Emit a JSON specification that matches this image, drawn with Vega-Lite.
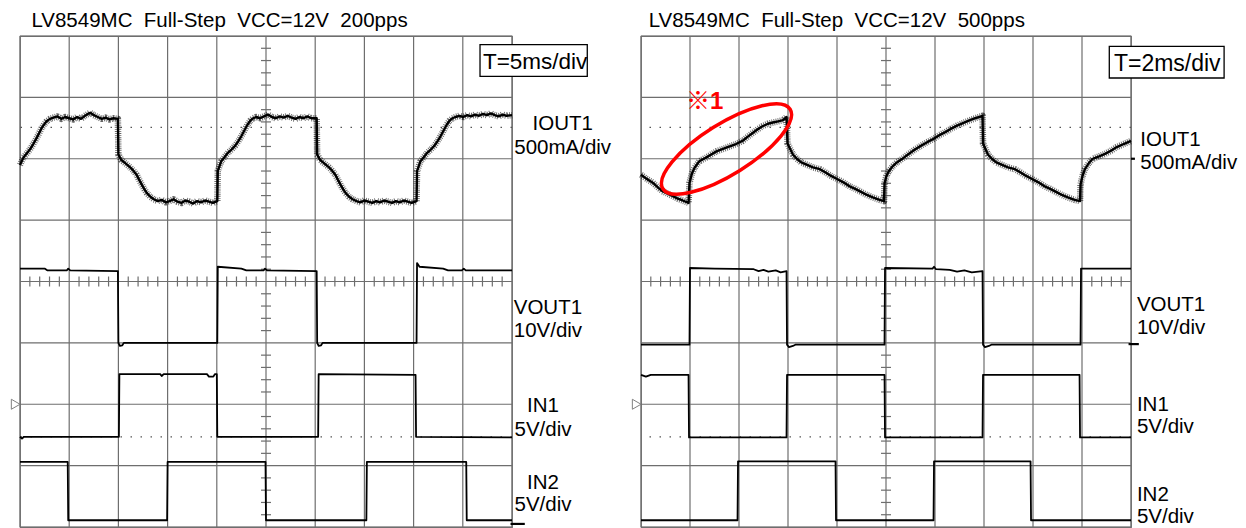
{
  "$schema": "https://vega.github.io/schema/vega-lite/v6.json",
  "padding": {"left": 8, "top": 10, "right": 0, "bottom": 0},
  "background": "white",
  "bounds": "flush",
  "spacing": 129,
  "config": {
    "font": "Liberation Sans",
    "view": {"stroke": "#6e6e6e", "strokeWidth": 1.2},
    "title": {"fontSize": 20.5, "fontWeight": "normal", "font": "Liberation Sans", "anchor": "start", "frame": "group", "offset": 3.5, "baseline": "alphabetic", "color": "#000000"},
    "text": {"font": "Liberation Sans", "color": "#000000"},
    "line": {"strokeJoin": "round"}
  },
  "datasets": {
    "gridX": [{"p":0},{"p":1},{"p":2},{"p":3},{"p":4},{"p":5},{"p":6},{"p":7},{"p":8},{"p":9},{"p":10}],
    "gridY": [{"p":0},{"p":1},{"p":2},{"p":3},{"p":4},{"p":5},{"p":6},{"p":7},{"p":8}],
    "dots": [{"v": 6.51}, {"v": 1.47}],
    "mL": [{"t": 9.97, "t2": 10.26, "v": 0.05}],
    "mR": [{"t": 9.95, "t2": 10.16, "v": 2.98}, {"t": 10.0, "t2": 10.08, "v": 6.0}],
    "ticksX": [{"p":0.2},{"p":0.4},{"p":0.6},{"p":0.8},{"p":1.2},{"p":1.4},{"p":1.6},{"p":1.8},{"p":2.2},{"p":2.4},{"p":2.6},{"p":2.8},{"p":3.2},{"p":3.4},{"p":3.6},{"p":3.8},{"p":4.2},{"p":4.4},{"p":4.6},{"p":4.8},{"p":5.2},{"p":5.4},{"p":5.6},{"p":5.8},{"p":6.2},{"p":6.4},{"p":6.6},{"p":6.8},{"p":7.2},{"p":7.4},{"p":7.6},{"p":7.8},{"p":8.2},{"p":8.4},{"p":8.6},{"p":8.8},{"p":9.2},{"p":9.4},{"p":9.6},{"p":9.8}],
    "ticksY": [{"p":0.2},{"p":0.4},{"p":0.6},{"p":0.8},{"p":1.2},{"p":1.4},{"p":1.6},{"p":1.8},{"p":2.2},{"p":2.4},{"p":2.6},{"p":2.8},{"p":3.2},{"p":3.4},{"p":3.6},{"p":3.8},{"p":4.2},{"p":4.4},{"p":4.6},{"p":4.8},{"p":5.2},{"p":5.4},{"p":5.6},{"p":5.8},{"p":6.2},{"p":6.4},{"p":6.6},{"p":6.8},{"p":7.2},{"p":7.4},{"p":7.6},{"p":7.8}],
    "L": [
      {"ch":"IOUT1","t":0,"v":5.90},{"ch":"IOUT1","t":0.07,"v":6.02},{"ch":"IOUT1","t":0.14,"v":6.09},{"ch":"IOUT1","t":0.2,"v":6.15},{"ch":"IOUT1","t":0.27,"v":6.24},{"ch":"IOUT1","t":0.34,"v":6.34},{"ch":"IOUT1","t":0.39,"v":6.42},{"ch":"IOUT1","t":0.44,"v":6.50},{"ch":"IOUT1","t":0.49,"v":6.56},{"ch":"IOUT1","t":0.54,"v":6.61},{"ch":"IOUT1","t":0.61,"v":6.65},{"ch":"IOUT1","t":0.68,"v":6.67},{"ch":"IOUT1","t":0.76,"v":6.69},{"ch":"IOUT1","t":0.84,"v":6.65},{"ch":"IOUT1","t":0.92,"v":6.68},{"ch":"IOUT1","t":1.0,"v":6.66},{"ch":"IOUT1","t":1.08,"v":6.64},{"ch":"IOUT1","t":1.16,"v":6.68},{"ch":"IOUT1","t":1.24,"v":6.65},{"ch":"IOUT1","t":1.32,"v":6.70},{"ch":"IOUT1","t":1.38,"v":6.73},{"ch":"IOUT1","t":1.43,"v":6.75},{"ch":"IOUT1","t":1.5,"v":6.71},{"ch":"IOUT1","t":1.58,"v":6.68},{"ch":"IOUT1","t":1.66,"v":6.65},{"ch":"IOUT1","t":1.74,"v":6.67},{"ch":"IOUT1","t":1.82,"v":6.64},{"ch":"IOUT1","t":1.9,"v":6.66},{"ch":"IOUT1","t":1.99,"v":6.65},
      {"ch":"IOUT1","t":2.0,"v":6.07},{"ch":"IOUT1","t":2.06,"v":5.98},{"ch":"IOUT1","t":2.12,"v":5.94},{"ch":"IOUT1","t":2.18,"v":5.90},{"ch":"IOUT1","t":2.24,"v":5.86},{"ch":"IOUT1","t":2.3,"v":5.81},{"ch":"IOUT1","t":2.37,"v":5.74},{"ch":"IOUT1","t":2.42,"v":5.66},{"ch":"IOUT1","t":2.48,"v":5.57},{"ch":"IOUT1","t":2.53,"v":5.50},{"ch":"IOUT1","t":2.58,"v":5.44},{"ch":"IOUT1","t":2.65,"v":5.38},{"ch":"IOUT1","t":2.72,"v":5.34},{"ch":"IOUT1","t":2.8,"v":5.31},{"ch":"IOUT1","t":2.88,"v":5.33},{"ch":"IOUT1","t":2.96,"v":5.29},{"ch":"IOUT1","t":3.04,"v":5.31},{"ch":"IOUT1","t":3.12,"v":5.34},{"ch":"IOUT1","t":3.2,"v":5.30},{"ch":"IOUT1","t":3.28,"v":5.28},{"ch":"IOUT1","t":3.36,"v":5.32},{"ch":"IOUT1","t":3.44,"v":5.30},{"ch":"IOUT1","t":3.52,"v":5.27},{"ch":"IOUT1","t":3.6,"v":5.31},{"ch":"IOUT1","t":3.68,"v":5.29},{"ch":"IOUT1","t":3.76,"v":5.32},{"ch":"IOUT1","t":3.84,"v":5.30},{"ch":"IOUT1","t":3.92,"v":5.28},{"ch":"IOUT1","t":4.01,"v":5.31},
      {"ch":"IOUT1","t":4.02,"v":5.80},{"ch":"IOUT1","t":4.09,"v":5.96},{"ch":"IOUT1","t":4.16,"v":6.03},{"ch":"IOUT1","t":4.23,"v":6.10},{"ch":"IOUT1","t":4.3,"v":6.15},{"ch":"IOUT1","t":4.37,"v":6.21},{"ch":"IOUT1","t":4.44,"v":6.29},{"ch":"IOUT1","t":4.5,"v":6.37},{"ch":"IOUT1","t":4.56,"v":6.46},{"ch":"IOUT1","t":4.62,"v":6.55},{"ch":"IOUT1","t":4.68,"v":6.62},{"ch":"IOUT1","t":4.74,"v":6.66},{"ch":"IOUT1","t":4.8,"v":6.68},{"ch":"IOUT1","t":4.88,"v":6.66},{"ch":"IOUT1","t":4.96,"v":6.69},{"ch":"IOUT1","t":5.04,"v":6.72},{"ch":"IOUT1","t":5.12,"v":6.68},{"ch":"IOUT1","t":5.2,"v":6.66},{"ch":"IOUT1","t":5.28,"v":6.69},{"ch":"IOUT1","t":5.36,"v":6.67},{"ch":"IOUT1","t":5.44,"v":6.70},{"ch":"IOUT1","t":5.52,"v":6.67},{"ch":"IOUT1","t":5.6,"v":6.65},{"ch":"IOUT1","t":5.68,"v":6.68},{"ch":"IOUT1","t":5.76,"v":6.66},{"ch":"IOUT1","t":5.84,"v":6.69},{"ch":"IOUT1","t":5.92,"v":6.66},{"ch":"IOUT1","t":6.03,"v":6.66},
      {"ch":"IOUT1","t":6.04,"v":6.07},{"ch":"IOUT1","t":6.1,"v":5.98},{"ch":"IOUT1","t":6.16,"v":5.94},{"ch":"IOUT1","t":6.22,"v":5.90},{"ch":"IOUT1","t":6.28,"v":5.86},{"ch":"IOUT1","t":6.34,"v":5.81},{"ch":"IOUT1","t":6.41,"v":5.74},{"ch":"IOUT1","t":6.46,"v":5.66},{"ch":"IOUT1","t":6.52,"v":5.57},{"ch":"IOUT1","t":6.57,"v":5.50},{"ch":"IOUT1","t":6.62,"v":5.44},{"ch":"IOUT1","t":6.69,"v":5.38},{"ch":"IOUT1","t":6.76,"v":5.34},{"ch":"IOUT1","t":6.84,"v":5.31},{"ch":"IOUT1","t":6.92,"v":5.29},{"ch":"IOUT1","t":7.0,"v":5.32},{"ch":"IOUT1","t":7.08,"v":5.30},{"ch":"IOUT1","t":7.16,"v":5.28},{"ch":"IOUT1","t":7.24,"v":5.31},{"ch":"IOUT1","t":7.32,"v":5.29},{"ch":"IOUT1","t":7.4,"v":5.32},{"ch":"IOUT1","t":7.48,"v":5.30},{"ch":"IOUT1","t":7.56,"v":5.28},{"ch":"IOUT1","t":7.64,"v":5.31},{"ch":"IOUT1","t":7.72,"v":5.29},{"ch":"IOUT1","t":7.8,"v":5.32},{"ch":"IOUT1","t":7.88,"v":5.30},{"ch":"IOUT1","t":7.96,"v":5.28},{"ch":"IOUT1","t":8.06,"v":5.31},
      {"ch":"IOUT1","t":8.07,"v":5.80},{"ch":"IOUT1","t":8.14,"v":5.96},{"ch":"IOUT1","t":8.21,"v":6.03},{"ch":"IOUT1","t":8.28,"v":6.10},{"ch":"IOUT1","t":8.35,"v":6.15},{"ch":"IOUT1","t":8.42,"v":6.21},{"ch":"IOUT1","t":8.49,"v":6.29},{"ch":"IOUT1","t":8.55,"v":6.37},{"ch":"IOUT1","t":8.61,"v":6.46},{"ch":"IOUT1","t":8.67,"v":6.55},{"ch":"IOUT1","t":8.73,"v":6.62},{"ch":"IOUT1","t":8.79,"v":6.66},{"ch":"IOUT1","t":8.85,"v":6.68},{"ch":"IOUT1","t":8.93,"v":6.70},{"ch":"IOUT1","t":9.01,"v":6.68},{"ch":"IOUT1","t":9.09,"v":6.71},{"ch":"IOUT1","t":9.17,"v":6.69},{"ch":"IOUT1","t":9.25,"v":6.72},{"ch":"IOUT1","t":9.33,"v":6.70},{"ch":"IOUT1","t":9.41,"v":6.73},{"ch":"IOUT1","t":9.49,"v":6.71},{"ch":"IOUT1","t":9.57,"v":6.74},{"ch":"IOUT1","t":9.65,"v":6.71},{"ch":"IOUT1","t":9.73,"v":6.69},{"ch":"IOUT1","t":9.81,"v":6.72},{"ch":"IOUT1","t":9.89,"v":6.70},{"ch":"IOUT1","t":10,"v":6.71},
      {"ch":"VOUT1","t":0,"v":4.21},{"ch":"VOUT1","t":0.5,"v":4.21},{"ch":"VOUT1","t":0.56,"v":4.18},{"ch":"VOUT1","t":0.95,"v":4.18},{"ch":"VOUT1","t":0.98,"v":4.21},{"ch":"VOUT1","t":1.02,"v":4.18},{"ch":"VOUT1","t":1.99,"v":4.17},{"ch":"VOUT1","t":2.0,"v":3.0},{"ch":"VOUT1","t":2.03,"v":2.95},{"ch":"VOUT1","t":2.08,"v":2.96},{"ch":"VOUT1","t":2.11,"v":3.0},{"ch":"VOUT1","t":4.01,"v":3.0},{"ch":"VOUT1","t":4.02,"v":4.24},{"ch":"VOUT1","t":4.5,"v":4.21},{"ch":"VOUT1","t":4.6,"v":4.18},{"ch":"VOUT1","t":4.95,"v":4.18},{"ch":"VOUT1","t":4.98,"v":4.21},{"ch":"VOUT1","t":5.02,"v":4.18},{"ch":"VOUT1","t":6.03,"v":4.17},{"ch":"VOUT1","t":6.04,"v":3.0},{"ch":"VOUT1","t":6.07,"v":2.95},{"ch":"VOUT1","t":6.12,"v":2.96},{"ch":"VOUT1","t":6.15,"v":3.0},{"ch":"VOUT1","t":8.06,"v":3.0},{"ch":"VOUT1","t":8.07,"v":4.30},{"ch":"VOUT1","t":8.12,"v":4.24},{"ch":"VOUT1","t":8.6,"v":4.21},{"ch":"VOUT1","t":8.7,"v":4.18},{"ch":"VOUT1","t":8.98,"v":4.18},{"ch":"VOUT1","t":9.02,"v":4.21},{"ch":"VOUT1","t":9.06,"v":4.18},{"ch":"VOUT1","t":10,"v":4.18},
      {"ch":"IN1","t":0,"v":1.47},{"ch":"IN1","t":0.04,"v":1.44},{"ch":"IN1","t":0.08,"v":1.47},{"ch":"IN1","t":2.01,"v":1.47},{"ch":"IN1","t":2.02,"v":2.49},{"ch":"IN1","t":2.85,"v":2.49},{"ch":"IN1","t":2.88,"v":2.46},{"ch":"IN1","t":2.92,"v":2.49},{"ch":"IN1","t":3.8,"v":2.49},{"ch":"IN1","t":3.84,"v":2.45},{"ch":"IN1","t":3.93,"v":2.45},{"ch":"IN1","t":3.96,"v":2.49},{"ch":"IN1","t":4.0,"v":2.49},{"ch":"IN1","t":4.01,"v":1.47},{"ch":"IN1","t":6.06,"v":1.47},{"ch":"IN1","t":6.07,"v":2.49},{"ch":"IN1","t":8.04,"v":2.48},{"ch":"IN1","t":8.05,"v":1.47},{"ch":"IN1","t":10,"v":1.46},
      {"ch":"IN2","t":0,"v":1.06},{"ch":"IN2","t":0.97,"v":1.06},{"ch":"IN2","t":0.98,"v":0.11},{"ch":"IN2","t":2.99,"v":0.11},{"ch":"IN2","t":3.0,"v":1.06},{"ch":"IN2","t":4.99,"v":1.06},{"ch":"IN2","t":5.0,"v":0.11},{"ch":"IN2","t":7.04,"v":0.11},{"ch":"IN2","t":7.05,"v":1.06},{"ch":"IN2","t":9.07,"v":1.06},{"ch":"IN2","t":9.08,"v":0.11},{"ch":"IN2","t":10,"v":0.11}
    ],
    "R": [
      {"ch":"IOUT1","t":0,"v":5.74},{"ch":"IOUT1","t":0.1,"v":5.68},{"ch":"IOUT1","t":0.24,"v":5.61},{"ch":"IOUT1","t":0.35,"v":5.53},{"ch":"IOUT1","t":0.44,"v":5.47},{"ch":"IOUT1","t":0.55,"v":5.43},{"ch":"IOUT1","t":0.65,"v":5.39},{"ch":"IOUT1","t":0.75,"v":5.35},{"ch":"IOUT1","t":0.85,"v":5.32},{"ch":"IOUT1","t":0.97,"v":5.28},
      {"ch":"IOUT1","t":0.99,"v":5.61},{"ch":"IOUT1","t":1.04,"v":5.76},{"ch":"IOUT1","t":1.09,"v":5.85},{"ch":"IOUT1","t":1.19,"v":5.96},{"ch":"IOUT1","t":1.33,"v":6.02},{"ch":"IOUT1","t":1.54,"v":6.12},{"ch":"IOUT1","t":1.74,"v":6.18},{"ch":"IOUT1","t":1.94,"v":6.24},{"ch":"IOUT1","t":2.07,"v":6.29},{"ch":"IOUT1","t":2.18,"v":6.36},{"ch":"IOUT1","t":2.28,"v":6.42},{"ch":"IOUT1","t":2.38,"v":6.48},{"ch":"IOUT1","t":2.48,"v":6.53},{"ch":"IOUT1","t":2.59,"v":6.57},{"ch":"IOUT1","t":2.69,"v":6.59},{"ch":"IOUT1","t":2.8,"v":6.61},{"ch":"IOUT1","t":2.9,"v":6.63},{"ch":"IOUT1","t":2.97,"v":6.68},
      {"ch":"IOUT1","t":2.99,"v":6.25},{"ch":"IOUT1","t":3.1,"v":6.07},{"ch":"IOUT1","t":3.18,"v":6.0},{"ch":"IOUT1","t":3.27,"v":5.94},{"ch":"IOUT1","t":3.39,"v":5.90},{"ch":"IOUT1","t":3.51,"v":5.86},{"ch":"IOUT1","t":3.65,"v":5.83},{"ch":"IOUT1","t":3.76,"v":5.78},{"ch":"IOUT1","t":3.88,"v":5.72},{"ch":"IOUT1","t":4.0,"v":5.67},{"ch":"IOUT1","t":4.12,"v":5.62},{"ch":"IOUT1","t":4.26,"v":5.55},{"ch":"IOUT1","t":4.37,"v":5.51},{"ch":"IOUT1","t":4.49,"v":5.46},{"ch":"IOUT1","t":4.61,"v":5.41},{"ch":"IOUT1","t":4.73,"v":5.37},{"ch":"IOUT1","t":4.87,"v":5.33},{"ch":"IOUT1","t":4.96,"v":5.31},
      {"ch":"IOUT1","t":4.97,"v":5.60},{"ch":"IOUT1","t":5.01,"v":5.72},{"ch":"IOUT1","t":5.06,"v":5.80},{"ch":"IOUT1","t":5.14,"v":5.88},{"ch":"IOUT1","t":5.22,"v":5.94},{"ch":"IOUT1","t":5.35,"v":6.01},{"ch":"IOUT1","t":5.47,"v":6.08},{"ch":"IOUT1","t":5.59,"v":6.15},{"ch":"IOUT1","t":5.71,"v":6.21},{"ch":"IOUT1","t":5.84,"v":6.27},{"ch":"IOUT1","t":5.96,"v":6.32},{"ch":"IOUT1","t":6.08,"v":6.38},{"ch":"IOUT1","t":6.2,"v":6.43},{"ch":"IOUT1","t":6.33,"v":6.49},{"ch":"IOUT1","t":6.45,"v":6.54},{"ch":"IOUT1","t":6.57,"v":6.58},{"ch":"IOUT1","t":6.69,"v":6.62},{"ch":"IOUT1","t":6.82,"v":6.66},{"ch":"IOUT1","t":6.94,"v":6.69},{"ch":"IOUT1","t":6.97,"v":6.70},
      {"ch":"IOUT1","t":6.98,"v":6.25},{"ch":"IOUT1","t":7.08,"v":6.07},{"ch":"IOUT1","t":7.16,"v":6.0},{"ch":"IOUT1","t":7.25,"v":5.94},{"ch":"IOUT1","t":7.37,"v":5.90},{"ch":"IOUT1","t":7.49,"v":5.86},{"ch":"IOUT1","t":7.63,"v":5.83},{"ch":"IOUT1","t":7.74,"v":5.78},{"ch":"IOUT1","t":7.86,"v":5.72},{"ch":"IOUT1","t":7.98,"v":5.67},{"ch":"IOUT1","t":8.1,"v":5.62},{"ch":"IOUT1","t":8.24,"v":5.55},{"ch":"IOUT1","t":8.35,"v":5.51},{"ch":"IOUT1","t":8.47,"v":5.46},{"ch":"IOUT1","t":8.59,"v":5.41},{"ch":"IOUT1","t":8.71,"v":5.37},{"ch":"IOUT1","t":8.85,"v":5.33},{"ch":"IOUT1","t":8.96,"v":5.31},
      {"ch":"IOUT1","t":8.97,"v":5.58},{"ch":"IOUT1","t":9.01,"v":5.72},{"ch":"IOUT1","t":9.06,"v":5.83},{"ch":"IOUT1","t":9.14,"v":5.93},{"ch":"IOUT1","t":9.22,"v":6.0},{"ch":"IOUT1","t":9.35,"v":6.04},{"ch":"IOUT1","t":9.47,"v":6.08},{"ch":"IOUT1","t":9.59,"v":6.13},{"ch":"IOUT1","t":9.71,"v":6.19},{"ch":"IOUT1","t":9.85,"v":6.24},{"ch":"IOUT1","t":10,"v":6.29},
      {"ch":"VOUT1","t":0,"v":2.97},{"ch":"VOUT1","t":0.99,"v":2.97},{"ch":"VOUT1","t":1.0,"v":4.22},{"ch":"VOUT1","t":1.5,"v":4.21},{"ch":"VOUT1","t":2.3,"v":4.20},{"ch":"VOUT1","t":2.4,"v":4.17},{"ch":"VOUT1","t":2.5,"v":4.19},{"ch":"VOUT1","t":2.6,"v":4.16},{"ch":"VOUT1","t":2.75,"v":4.18},{"ch":"VOUT1","t":2.85,"v":4.15},{"ch":"VOUT1","t":2.97,"v":4.17},{"ch":"VOUT1","t":2.98,"v":2.97},{"ch":"VOUT1","t":3.02,"v":2.93},{"ch":"VOUT1","t":3.1,"v":2.95},{"ch":"VOUT1","t":3.15,"v":2.97},{"ch":"VOUT1","t":4.97,"v":2.97},{"ch":"VOUT1","t":4.98,"v":4.22},{"ch":"VOUT1","t":5.95,"v":4.21},{"ch":"VOUT1","t":5.98,"v":4.24},{"ch":"VOUT1","t":6.02,"v":4.20},{"ch":"VOUT1","t":6.3,"v":4.19},{"ch":"VOUT1","t":6.45,"v":4.16},{"ch":"VOUT1","t":6.6,"v":4.18},{"ch":"VOUT1","t":6.75,"v":4.15},{"ch":"VOUT1","t":6.97,"v":4.17},{"ch":"VOUT1","t":6.98,"v":2.97},{"ch":"VOUT1","t":7.02,"v":2.93},{"ch":"VOUT1","t":7.1,"v":2.95},{"ch":"VOUT1","t":7.15,"v":2.97},{"ch":"VOUT1","t":8.97,"v":2.97},{"ch":"VOUT1","t":8.98,"v":4.21},{"ch":"VOUT1","t":10,"v":4.21},
      {"ch":"IN1","t":0,"v":2.48},{"ch":"IN1","t":0.1,"v":2.45},{"ch":"IN1","t":0.2,"v":2.48},{"ch":"IN1","t":0.97,"v":2.48},{"ch":"IN1","t":0.98,"v":1.46},{"ch":"IN1","t":2.97,"v":1.46},{"ch":"IN1","t":2.98,"v":2.48},{"ch":"IN1","t":4.97,"v":2.48},{"ch":"IN1","t":4.98,"v":1.46},{"ch":"IN1","t":6.97,"v":1.46},{"ch":"IN1","t":6.98,"v":2.48},{"ch":"IN1","t":8.95,"v":2.48},{"ch":"IN1","t":8.96,"v":1.46},{"ch":"IN1","t":10,"v":1.46},
      {"ch":"IN2","t":0,"v":0.11},{"ch":"IN2","t":1.97,"v":0.11},{"ch":"IN2","t":1.98,"v":1.07},{"ch":"IN2","t":3.97,"v":1.07},{"ch":"IN2","t":3.98,"v":0.11},{"ch":"IN2","t":5.97,"v":0.11},{"ch":"IN2","t":5.98,"v":1.07},{"ch":"IN2","t":7.95,"v":1.07},{"ch":"IN2","t":7.96,"v":0.11},{"ch":"IN2","t":10,"v":0.11}
    ]
  },
  "hconcat": [
    {
      "width": 492,
      "height": 491,
      "title": {"text": "LV8549MC\u00a0\u00a0Full-Step\u00a0\u00a0VCC=12V\u00a0\u00a0200pps", "dx": 11.4},
      "layer": [
        {
          "data": {"name": "gridX"},
          "mark": {"type": "rule", "color": "#6e6e6e", "strokeWidth": 1.2},
          "encoding": {"x": {"field": "p", "type": "quantitative", "scale": {"domain": [0, 10], "nice": false, "zero": false}, "axis": null}}
        },
        {
          "data": {"name": "gridY"},
          "mark": {"type": "rule", "color": "#6e6e6e", "strokeWidth": 1.2},
          "encoding": {"y": {"field": "p", "type": "quantitative", "scale": {"domain": [0, 8], "nice": false, "zero": false}, "axis": null}}
        },
        {
          "data": {"name": "dots"},
          "mark": {"type": "rule", "color": "#555555", "strokeWidth": 1.3, "strokeDash": [1.5, 8.5]},
          "encoding": {"y": {"field": "v", "type": "quantitative", "axis": null}}
        },
        {
          "data": {"name": "ticksX"},
          "mark": {"type": "tick", "orient": "vertical", "size": 10, "thickness": 1.2, "color": "#6e6e6e", "opacity": 1},
          "encoding": {
            "x": {"field": "p", "type": "quantitative", "axis": null},
            "y": {"datum": 4, "type": "quantitative", "axis": null}
          }
        },
        {
          "data": {"name": "ticksY"},
          "mark": {"type": "tick", "orient": "horizontal", "size": 10, "thickness": 1.2, "color": "#6e6e6e", "opacity": 1},
          "encoding": {
            "x": {"datum": 5, "type": "quantitative", "axis": null},
            "y": {"field": "p", "type": "quantitative", "axis": null}
          }
        },
        {
          "data": {"values": [{}]},
          "mark": {"type": "point", "shape": "triangle-right", "size": 100, "filled": false, "stroke": "#808080", "strokeWidth": 1, "opacity": 1},
          "encoding": {
            "x": {"datum": -0.088, "type": "quantitative", "axis": null},
            "y": {"datum": 2.0, "type": "quantitative", "axis": null}
          }
        },
        {
          "data": {"name": "mL"},
          "mark": {"type": "rule", "color": "#000000", "strokeWidth": 2.2},
          "encoding": {
            "x": {"field": "t", "type": "quantitative", "axis": null},
            "x2": {"field": "t2"},
            "y": {"field": "v", "type": "quantitative", "axis": null}
          }
        },
        {
          "data": {"name": "L"},
          "transform": [{"filter": "datum.ch !== 'IOUT1'"}],
          "mark": {"type": "line", "color": "#000000", "strokeWidth": 1.8},
          "encoding": {
            "x": {"field": "t", "type": "quantitative", "axis": null},
            "y": {"field": "v", "type": "quantitative", "axis": null},
            "detail": {"field": "ch"}
          }
        },
        {
          "data": {"name": "L"},
          "transform": [{"filter": "datum.ch === 'IOUT1'"}],
          "mark": {"type": "line", "color": "#000000", "strokeWidth": 6.5, "opacity": 0.6, "strokeDash": [0.9, 1.2]},
          "encoding": {
            "x": {"field": "t", "type": "quantitative", "axis": null},
            "y": {"field": "v", "type": "quantitative", "axis": null}
          }
        },
        {
          "data": {"name": "L"},
          "transform": [{"filter": "datum.ch === 'IOUT1'"}],
          "mark": {"type": "line", "color": "#000000", "strokeWidth": 2.4},
          "encoding": {
            "x": {"field": "t", "type": "quantitative", "axis": null},
            "y": {"field": "v", "type": "quantitative", "axis": null}
          }
        },
        {
          "data": {"values": [{}]},
          "mark": {"type": "rect", "fill": "#ffffff", "stroke": "#000000", "strokeWidth": 1.3},
          "encoding": {
            "x": {"datum": 9.35, "type": "quantitative", "axis": null},
            "x2": {"datum": 11.53},
            "y": {"datum": 7.858, "type": "quantitative", "axis": null},
            "y2": {"datum": 7.343}
          }
        },
        {
          "data": {"values": [{}]},
          "mark": {"type": "text", "fontSize": 22.5, "align": "center", "baseline": "alphabetic"},
          "encoding": {
            "x": {"datum": 10.47, "type": "quantitative", "axis": null},
            "y": {"datum": 7.462, "type": "quantitative", "axis": null},
            "text": {"value": "T=5ms/div"}
          }
        },
        {
          "data": {"values": [{}]},
          "mark": {"type": "text", "fontSize": 20.5, "align": "center", "baseline": "alphabetic", "lineHeight": 24},
          "encoding": {
            "x": {"datum": 11.03, "type": "quantitative", "axis": null},
            "y": {"datum": 6.474, "type": "quantitative", "axis": null},
            "text": {"value": ["IOUT1", "500mA/div"]}
          }
        },
        {
          "data": {"values": [{}]},
          "mark": {"type": "text", "fontSize": 20.5, "align": "center", "baseline": "alphabetic", "lineHeight": 23.5},
          "encoding": {
            "x": {"datum": 10.73, "type": "quantitative", "axis": null},
            "y": {"datum": 3.472, "type": "quantitative", "axis": null},
            "text": {"value": ["VOUT1", "10V/div"]}
          }
        },
        {
          "data": {"values": [{}]},
          "mark": {"type": "text", "fontSize": 20.5, "align": "center", "baseline": "alphabetic", "lineHeight": 23.5},
          "encoding": {
            "x": {"datum": 10.63, "type": "quantitative", "axis": null},
            "y": {"datum": 1.873, "type": "quantitative", "axis": null},
            "text": {"value": ["IN1", "5V/div"]}
          }
        },
        {
          "data": {"values": [{}]},
          "mark": {"type": "text", "fontSize": 20.5, "align": "center", "baseline": "alphabetic", "lineHeight": 22},
          "encoding": {
            "x": {"datum": 10.63, "type": "quantitative", "axis": null},
            "y": {"datum": 0.619, "type": "quantitative", "axis": null},
            "text": {"value": ["IN2", "5V/div"]}
          }
        }
      ]
    },
    {
      "width": 490,
      "height": 491,
      "title": {"text": "LV8549MC\u00a0\u00a0Full-Step\u00a0\u00a0VCC=12V\u00a0\u00a0500pps", "dx": 7.7},
      "layer": [
        {
          "data": {"name": "gridX"},
          "mark": {"type": "rule", "color": "#6e6e6e", "strokeWidth": 1.2},
          "encoding": {"x": {"field": "p", "type": "quantitative", "scale": {"domain": [0, 10], "nice": false, "zero": false}, "axis": null}}
        },
        {
          "data": {"name": "gridY"},
          "mark": {"type": "rule", "color": "#6e6e6e", "strokeWidth": 1.2},
          "encoding": {"y": {"field": "p", "type": "quantitative", "scale": {"domain": [0, 8], "nice": false, "zero": false}, "axis": null}}
        },
        {
          "data": {"name": "dots"},
          "mark": {"type": "rule", "color": "#555555", "strokeWidth": 1.3, "strokeDash": [1.5, 8.5]},
          "encoding": {"y": {"field": "v", "type": "quantitative", "axis": null}}
        },
        {
          "data": {"name": "ticksX"},
          "mark": {"type": "tick", "orient": "vertical", "size": 10, "thickness": 1.2, "color": "#6e6e6e", "opacity": 1},
          "encoding": {
            "x": {"field": "p", "type": "quantitative", "axis": null},
            "y": {"datum": 4, "type": "quantitative", "axis": null}
          }
        },
        {
          "data": {"name": "ticksY"},
          "mark": {"type": "tick", "orient": "horizontal", "size": 10, "thickness": 1.2, "color": "#6e6e6e", "opacity": 1},
          "encoding": {
            "x": {"datum": 5, "type": "quantitative", "axis": null},
            "y": {"field": "p", "type": "quantitative", "axis": null}
          }
        },
        {
          "data": {"values": [{}]},
          "mark": {"type": "point", "shape": "triangle-right", "size": 100, "filled": false, "stroke": "#808080", "strokeWidth": 1, "opacity": 1},
          "encoding": {
            "x": {"datum": -0.088, "type": "quantitative", "axis": null},
            "y": {"datum": 2.0, "type": "quantitative", "axis": null}
          }
        },
        {
          "data": {"name": "mR"},
          "mark": {"type": "rule", "color": "#000000", "strokeWidth": 2.2},
          "encoding": {
            "x": {"field": "t", "type": "quantitative", "axis": null},
            "x2": {"field": "t2"},
            "y": {"field": "v", "type": "quantitative", "axis": null}
          }
        },
        {
          "data": {"name": "R"},
          "transform": [{"filter": "datum.ch !== 'IOUT1'"}],
          "mark": {"type": "line", "color": "#000000", "strokeWidth": 1.8},
          "encoding": {
            "x": {"field": "t", "type": "quantitative", "axis": null},
            "y": {"field": "v", "type": "quantitative", "axis": null},
            "detail": {"field": "ch"}
          }
        },
        {
          "data": {"name": "R"},
          "transform": [{"filter": "datum.ch === 'IOUT1'"}],
          "mark": {"type": "line", "color": "#000000", "strokeWidth": 6.5, "opacity": 0.6, "strokeDash": [0.9, 1.2]},
          "encoding": {
            "x": {"field": "t", "type": "quantitative", "axis": null},
            "y": {"field": "v", "type": "quantitative", "axis": null}
          }
        },
        {
          "data": {"name": "R"},
          "transform": [{"filter": "datum.ch === 'IOUT1'"}],
          "mark": {"type": "line", "color": "#000000", "strokeWidth": 2.4},
          "encoding": {
            "x": {"field": "t", "type": "quantitative", "axis": null},
            "y": {"field": "v", "type": "quantitative", "axis": null}
          }
        },
        {
          "data": {"values": [{}]},
          "mark": {"type": "point", "shape": "M1,0C1,0.186,0.552,0.337,0,0.337C-0.552,0.337,-1,0.186,-1,0C-1,-0.186,-0.552,-0.337,0,-0.337C0.552,-0.337,1,-0.186,1,0Z", "size": 22500, "angle": -32, "filled": false, "stroke": "#ff0000", "strokeWidth": 3.5, "opacity": 1},
          "encoding": {
            "x": {"datum": 1.745, "type": "quantitative", "axis": null},
            "y": {"datum": 6.159, "type": "quantitative", "axis": null}
          }
        },
        {
          "data": {"values": [{}]},
          "mark": {"type": "text", "fontSize": 24, "fontWeight": "bold", "color": "#ff0000", "align": "left", "baseline": "alphabetic", "font": "Liberation Sans, Noto Sans CJK JP"},
          "encoding": {
            "x": {"datum": 0.918, "type": "quantitative", "axis": null},
            "y": {"datum": 6.811, "type": "quantitative", "axis": null},
            "text": {"value": "※1"}
          }
        },
        {
          "data": {"values": [{}]},
          "mark": {"type": "rect", "fill": "#ffffff", "stroke": "#000000", "strokeWidth": 1.3},
          "encoding": {
            "x": {"datum": 9.557, "type": "quantitative", "axis": null},
            "x2": {"datum": 11.9},
            "y": {"datum": 7.832, "type": "quantitative", "axis": null},
            "y2": {"datum": 7.316}
          }
        },
        {
          "data": {"values": [{}]},
          "mark": {"type": "text", "fontSize": 23, "align": "center", "baseline": "alphabetic"},
          "encoding": {
            "x": {"datum": 10.74, "type": "quantitative", "axis": null},
            "y": {"datum": 7.435, "type": "quantitative", "axis": null},
            "text": {"value": "T=2ms/div"}
          }
        },
        {
          "data": {"values": [{}]},
          "mark": {"type": "text", "fontSize": 20.5, "align": "left", "baseline": "alphabetic", "lineHeight": 23.5},
          "encoding": {
            "x": {"datum": 10.19, "type": "quantitative", "axis": null},
            "y": {"datum": 6.213, "type": "quantitative", "axis": null},
            "text": {"value": ["IOUT1", "500mA/div"]}
          }
        },
        {
          "data": {"values": [{}]},
          "mark": {"type": "text", "fontSize": 20.5, "align": "left", "baseline": "alphabetic", "lineHeight": 23.5},
          "encoding": {
            "x": {"datum": 10.12, "type": "quantitative", "axis": null},
            "y": {"datum": 3.524, "type": "quantitative", "axis": null},
            "text": {"value": ["VOUT1", "10V/div"]}
          }
        },
        {
          "data": {"values": [{}]},
          "mark": {"type": "text", "fontSize": 20.5, "align": "left", "baseline": "alphabetic", "lineHeight": 22},
          "encoding": {
            "x": {"datum": 10.12, "type": "quantitative", "axis": null},
            "y": {"datum": 1.895, "type": "quantitative", "axis": null},
            "text": {"value": ["IN1", "5V/div"]}
          }
        },
        {
          "data": {"values": [{}]},
          "mark": {"type": "text", "fontSize": 20.5, "align": "left", "baseline": "alphabetic", "lineHeight": 22},
          "encoding": {
            "x": {"datum": 10.12, "type": "quantitative", "axis": null},
            "y": {"datum": 0.428, "type": "quantitative", "axis": null},
            "text": {"value": ["IN2", "5V/div"]}
          }
        }
      ]
    }
  ]
}
